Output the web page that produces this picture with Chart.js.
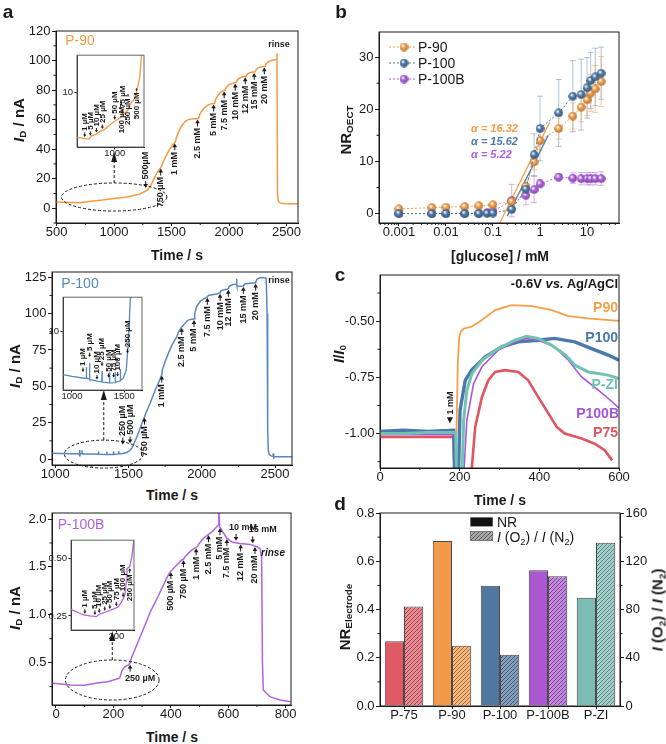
<!DOCTYPE html>
<html>
<head>
<meta charset="utf-8">
<script src="https://cdn.jsdelivr.net/npm/chart.js@4.4.1/dist/chart.umd.min.js"></script>
<style>
  body { margin: 0; background: #fff; }
  #fig { position: relative; width: 666px; height: 744px; overflow: hidden;
         font-family: 'Liberation Sans', Arial, sans-serif; color: #1a1a1a; }
  #fig canvas { position: absolute; }
  .t { position: absolute; white-space: nowrap; line-height: 1; z-index: 3; }
  .c { transform: translate(-50%, -50%); }
  .l { transform: translate(0, -50%); }
  .r { transform: translate(-100%, -50%); }
  .v { transform: translate(-50%, -50%) rotate(-90deg); }
  .b { font-weight: bold; }
  .tt { font-size: 14px; }
  .yt { font-size: 15px; }
  .let { font-size: 19px; font-weight: bold; }
  sub { font-size: 0.66em; vertical-align: -0.28em; line-height: 0; }
</style>
</head>
<body>
<div id="fig">
  <!-- panel letters -->
  <div class="t c let" style="left:8px;top:11px">a</div>
  <div class="t c let" style="left:341px;top:11px">b</div>
  <div class="t c let" style="left:340px;top:274px">c</div>
  <div class="t c let" style="left:340px;top:503px">d</div>

  <!-- panel a -->
  <div class="t v b yt" style="left:18px;top:120px"><i>I</i><sub>D</sub> / nA</div>
  <div class="t v b yt" style="left:14px;top:366px"><i>I</i><sub>D</sub> / nA</div>
  <div class="t v b yt" style="left:14px;top:608px"><i>I</i><sub>D</sub> / nA</div>
  <div class="t c b tt" style="left:177px;top:255px">Time / s</div>
  <div class="t c b tt" style="left:172px;top:495px">Time / s</div>
  <div class="t c b tt" style="left:172px;top:737px">Time / s</div>
  <div class="t c" style="left:80px;top:40px;font-size:14px;color:#f59a45">P-90</div>
  <div class="t c" style="left:80px;top:283px;font-size:14px;color:#5a88bd">P-100</div>
  <div class="t c" style="left:81px;top:524px;font-size:14px;color:#b263de">P-100B</div>
  <div class="t c b" style="left:279px;top:44px;font-size:9px">rinse</div>
  <div class="t c b" style="left:279px;top:280px;font-size:9px">rinse</div>
  <div class="t c b" style="left:273px;top:553px;font-size:10px;font-style:italic">rinse</div>

  <!-- panel b -->
  <div class="t v b yt" style="left:345px;top:130px">NR<sub>OECT</sub></div>
  <div class="t c b tt" style="left:500px;top:256px">[glucose] / mM</div>
  <div class="t l" style="left:418px;top:47px;font-size:14px">P-90</div>
  <div class="t l" style="left:418px;top:63px;font-size:14px">P-100</div>
  <div class="t l" style="left:418px;top:79px;font-size:14px">P-100B</div>
  <div class="t l b" style="left:471px;top:128px;font-size:11px;font-style:italic;color:#f59a45">α = 16.32</div>
  <div class="t l b" style="left:471px;top:141px;font-size:11px;font-style:italic;color:#4f7aa8">α = 15.62</div>
  <div class="t l b" style="left:471px;top:154px;font-size:11px;font-style:italic;color:#b060e0">α = 5.22</div>

  <!-- panel c -->
  <div class="t v b yt" style="left:338px;top:354px"><i>I</i>/<i>I</i><sub>0</sub></div>
  <div class="t c b tt" style="left:500px;top:500px">Time / s</div>
  <div class="t r b" style="left:618px;top:283px;font-size:13px">-0.6V <i>vs.</i> Ag/AgCl</div>
  <div class="t r b" style="left:618px;top:307px;font-size:14px;color:#f5a048">P90</div>
  <div class="t r b" style="left:618px;top:337px;font-size:14px;color:#4a78aa">P100</div>
  <div class="t r b" style="left:618px;top:384px;font-size:14px;color:#72c2b2">P-ZI</div>
  <div class="t r b" style="left:619px;top:413px;font-size:14px;color:#a855d8">P100B</div>
  <div class="t r b" style="left:618px;top:432px;font-size:14px;color:#e05560">P75</div>
  <div class="t v b" style="left:450px;top:403px;font-size:9px">1 mM</div>

  <!-- panel d -->
  <div class="t v b yt" style="left:344px;top:617px">NR<sub>Electrode</sub></div>
  <div class="t v b yt" style="left:657px;top:610px"><i>I</i> (O<sub>2</sub>) / <i>I</i> (N<sub>2</sub>)</div>
  <div class="t l" style="left:497px;top:522px;font-size:14px">NR</div>
  <div class="t l" style="left:497px;top:537px;font-size:14px"><i>I</i> (O<sub>2</sub>) / <i>I</i> (N<sub>2</sub>)</div>
</div>

<script>
// ── data ──────────────────────────────────────────────────────────────────

// a: drain current vs time, P-90
const A90_T = [495, 560, 700, 800, 900, 1000, 1100, 1221, 1270, 1294, 1330, 1360, 1385, 1411, 1425, 1450, 1480, 1510, 1533, 1545, 1565, 1590, 1615, 1645, 1690, 1735, 1745, 1765, 1790, 1820, 1850, 1874, 1882, 1900, 1925, 1950, 1967, 1975, 1995, 2020, 2050, 2063, 2070, 2090, 2120, 2151, 2158, 2180, 2210, 2229, 2236, 2255, 2290, 2316, 2322, 2345, 2380, 2415, 2417, 2422, 2428, 2435, 2445, 2470, 2530, 2600];
const A90_I = [4.0, 4.0, 3.7, 4.8, 5.6, 6.6, 7.5, 9.5, 11.5, 12.6, 17, 22, 25.5, 28, 31, 35, 39.5, 43, 45, 48.5, 52.5, 56, 58.5, 60, 60.6, 60.8, 63.5, 66, 68.5, 70, 70.8, 71, 73.5, 76, 78.5, 79.6, 80, 81.8, 83.3, 84.3, 85, 85.2, 86.8, 88, 89, 89.5, 90.8, 91.7, 92.2, 92.4, 94, 95.2, 95.8, 96.1, 97.8, 99.3, 100.3, 100.7, 105, 10, 5, 4.2, 3.6, 3.2, 3.1, 3.1];
const A90_IN_T = [613, 736, 761, 812, 846, 897, 948, 1000, 1051, 1102, 1136, 1171, 1194, 1222, 1238, 1256, 1273, 1290];
const A90_IN_I = [6.35, 6.25, 6.45, 6.57, 6.73, 6.89, 7.19, 7.47, 7.72, 8.1, 8.37, 9.07, 9.2, 10, 10.67, 11.57, 14.3, 16];

// a: P-100
const A100_T = [977, 1100, 1164, 1166, 1168, 1170, 1180, 1182, 1184, 1250, 1293, 1295, 1297, 1350, 1352, 1354, 1395, 1397, 1399, 1430, 1432, 1434, 1460, 1489, 1511, 1523, 1560, 1591, 1620, 1648, 1680, 1716, 1727, 1730, 1750, 1773, 1800, 1829, 1840, 1860, 1875, 1900, 1920, 1947, 1952, 1966, 1990, 2011, 2038, 2045, 2070, 2102, 2125, 2132, 2160, 2181, 2188, 2215, 2236, 2238, 2240, 2260, 2284, 2292, 2330, 2368, 2375, 2395, 2420, 2440, 2446, 2450, 2454, 2462, 2475, 2486, 2488, 2490, 2492, 2550, 2616];
const A100_I = [3.9, 3.7, 3.6, 6.3, 1.8, 3.6, 3.6, 6.0, 3.5, 3.4, 3.3, 5.2, 3.3, 3.2, 5.0, 3.2, 3.2, 5.3, 3.3, 3.4, 5.6, 3.5, 3.8, 4.5, 6, 7.5, 16, 24.5, 32, 38.5, 47, 55, 58, 61, 67, 73, 79, 84, 87, 90.5, 92, 95, 96, 96.2, 100, 105, 108.5, 110, 111.5, 112.5, 113, 113.5, 114.3, 115.8, 116.5, 117, 119, 120, 120.3, 124, 119, 118.8, 119, 120.3, 120.8, 121.2, 123.5, 124.6, 124.8, 124.3, 100, 20, 6, 3, 2, 1.8, 4, 0.2, 1.7, 1.5, 1.5];
const A100_IN_T = [914, 1000, 1100, 1135, 1137, 1139, 1166, 1168, 1170, 1200, 1250, 1285, 1287, 1289, 1357, 1359, 1361, 1411, 1413, 1415, 1460, 1462, 1464, 1490, 1519, 1541, 1557, 1570];
const A100_IN_I = [3.89, 3.75, 3.62, 3.6, 4.6, 3.6, 3.55, 5.0, 3.5, 3.45, 3.37, 3.35, 4.2, 3.3, 3.26, 4.1, 3.26, 3.28, 4.1, 3.3, 3.4, 4.4, 3.45, 3.6, 4.32, 8.69, 20, 22];

// a: P-100B
const A100B_T = [-14, 0, 50, 100, 119, 150, 180, 212, 222, 230, 240, 253, 258, 264, 300, 330, 360, 385, 398, 405, 421, 435, 444, 450, 467, 480, 491, 500, 514, 531, 545, 566, 567, 570, 577, 595, 612, 641, 676, 700, 711, 716, 719, 722, 745, 780, 818];
const A100B_I = [0.285, 0.283, 0.267, 0.265, 0.275, 0.29, 0.30, 0.33, 0.34, 0.42, 0.46, 0.476, 0.50, 0.56, 0.82, 1.04, 1.22, 1.38, 1.45, 1.47, 1.52, 1.565, 1.58, 1.61, 1.66, 1.69, 1.71, 1.75, 1.80, 1.84, 1.87, 1.94, 2.1, 1.92, 1.885, 1.80, 1.76, 1.745, 1.735, 1.71, 1.69, 1.6, 0.5, 0.215, 0.145, 0.11, 0.093];
const A100B_IN_T = [20, 42, 69, 95, 121, 134, 161, 187, 207, 220, 233, 240, 242, 253, 262, 268, 272];
const A100B_IN_I = [0.278, 0.268, 0.254, 0.25, 0.247, 0.258, 0.268, 0.279, 0.289, 0.31, 0.3375, 0.40, 0.455, 0.4625, 0.51, 0.567, 0.6];

// b: NR_OECT vs glucose
const B_CONC = [0.001, 0.005, 0.01, 0.025, 0.05, 0.075, 0.1, 0.25, 0.5, 0.75, 1, 2.5, 5, 7.5, 10, 12, 15, 20];
const B_P90 = [0.9, 1.15, 1.25, 1.35, 1.5, null, 1.7, 2.3, 5.2, 9.9, 14.0, 16.3, 18.7, 20.4, 21.8, 23.1, 23.9, 25.3];
const B_P90_ERR = [0.3, 0.3, 0.3, 0.3, 0.3, null, 0.4, 0.8, 1.2, 1.5, 1.8, 2.0, 2.5, 2.8, 3.0, 3.5, 4.5, 4.8];
const B_P100 = [0, 0, 0, 0, 0, 0.05, 0.1, 0.8, 4.7, 11.3, 16.3, 19.3, 22.5, 22.8, 24.1, 25.5, 26.2, 26.9];
const B_P100_ERR = [0.1, 0.1, 0.1, 0.1, 0.1, 0.1, 0.2, 0.5, 1.0, 4.0, 6.2, 6.4, 6.8, 6.8, 5.8, 5.4, 5.5, 5.0];
const B_P100B = [0, 0, 0, 0, 0.05, 0.2, 0.45, 2.5, 3.5, 4.6, 5.7, 7.0, 6.8, 6.7, 6.7, 6.7, 6.7, 6.7];
const B_P100B_ERR = [0.1, 0.1, 0.1, 0.1, 0.1, 0.2, 0.3, 3.1, 1.8, 2.5, 0.8, 0.6, 1.0, 1.2, 1.2, 1.2, 1.2, 1.3];
const B_FIT_P90_C = [0.139, 1.6];
const B_FIT_P90 = [-1.8, 17.5];
const B_FIT_P100_C = [0.2, 1.5];
const B_FIT_P100 = [-0.5, 15];

// c: normalised current vs time
const C_P90_T = [0, 60, 120, 185, 192, 195.5, 199, 203, 210, 230, 255, 289, 331, 381, 431, 473, 523, 560, 600];
const C_P90_V = [-1.0, -1.0, -1.0, -1.0, -1.0, -0.674, -0.57, -0.545, -0.533, -0.525, -0.496, -0.451, -0.429, -0.433, -0.451, -0.478, -0.488, -0.493, -0.499];
const C_P100_T = [0, 60, 120, 185, 188, 196, 201, 214, 230, 264, 306, 347, 397, 438, 489, 531, 573, 600];
const C_P100_V = [-0.99, -0.985, -0.99, -0.985, -1.25, -1.25, -0.896, -0.763, -0.718, -0.659, -0.614, -0.592, -0.585, -0.577, -0.592, -0.622, -0.651, -0.674];
const C_PZI_T = [0, 60, 120, 190, 193, 205, 210, 218, 231, 256, 297, 339, 368, 397, 431, 466, 489, 523, 573, 600];
const C_PZI_V = [-1.0, -1.0, -0.995, -0.995, -1.25, -1.25, -0.941, -0.807, -0.733, -0.674, -0.622, -0.585, -0.567, -0.577, -0.607, -0.651, -0.696, -0.726, -0.740, -0.755];
const C_P100B_T = [0, 60, 120, 190, 193, 208, 218, 235, 256, 297, 339, 368, 397, 438, 473, 506, 548, 573, 600];
const C_P100B_V = [-1.005, -1.005, -1.005, -1.005, -1.25, -1.25, -0.941, -0.777, -0.703, -0.629, -0.592, -0.577, -0.585, -0.614, -0.674, -0.748, -0.807, -0.844, -0.886];
const C_P75_T = [0, 60, 120, 185, 188, 226, 239, 256, 272, 289, 314, 347, 372, 397, 423, 444, 464, 506, 539, 564, 583];
const C_P75_V = [-1.015, -1.015, -1.015, -1.015, -1.25, -1.25, -0.971, -0.837, -0.763, -0.726, -0.718, -0.726, -0.763, -0.837, -0.911, -0.971, -1.0, -1.022, -1.045, -1.074, -1.119];

// d: bars
const D_CATS = ['P-75', 'P-90', 'P-100', 'P-100B', 'P-ZI'];
const D_NR = [0.268, 0.684, 0.498, 0.563, 0.449];
const D_RATIO = [82.5, 50, 42.5, 107.5, 135.3];

// tick values
const A90_XT = [500, 1000, 1500, 2000, 2500];
const A90_YT = [0, 20, 40, 60, 80, 100, 120];
const A100_XT = [1000, 1500, 2000, 2500];
const A100_YT = [0, 25, 50, 75, 100, 125];
const A100B_XT = [0, 200, 400, 600, 800];
const A100B_YT = [0.5, 1.0, 1.5, 2.0];
const B_XT = [0.001, 0.01, 0.1, 1, 10];
const B_YT = [0, 10, 20, 30];
const C_XT = [0, 200, 400, 600];
const C_YT = [-1.0, -0.75, -0.5];
const D_YT = [0, 0.2, 0.4, 0.6, 0.8];
const D_Y2T = [0, 40, 80, 120, 160];

// ── styling helpers ──────────────────────────────────────────────────────

const FONT = "'Liberation Sans', Arial, sans-serif";
const BLACK = '#1a1a1a';
const D_COLORS = ['#e05a66', '#f2994a', '#52779f', '#aa58d0', '#7cbcb4'];

Chart.defaults.font.family = FONT;
Chart.defaults.font.size = 13;
Chart.defaults.color = BLACK;

const fig = document.getElementById('fig');

function mix(a, b, f) {
    const p = h => [1, 3, 5].map(i => parseInt(h.slice(i, i + 2), 16));
    const A = p(a), B = p(b);
    return 'rgb(' + A.map((v, i) => Math.round(v + (B[i] - v) * f)).join(',') + ')';
}

function xy(xs, ys) {
    return xs.map((x, i) => ({ x: x, y: ys[i] }));
}

function mids(ticks) {
    const st = ticks[1] - ticks[0];
    const out = [];
    for (let v = ticks[0] - st / 2; v <= ticks[ticks.length - 1] + st / 2 + 1e-9; v += st) out.push(+v.toFixed(6));
    return out;
}

function logMinors() {
    const out = [];
    for (let e = -4; e <= 1; e++) for (let k = 2; k <= 9; k++) out.push(k * Math.pow(10, e));
    return out;
}

// canvas placed so the chart area lands on box (page pixels)
function addCanvas(box, pad) {
    const c = document.createElement('canvas');
    const w = Math.round(box.r - box.l + pad.l + pad.r);
    const h = Math.round(box.b - box.t + pad.t + pad.b);
    c.width = w; c.height = h;
    c.style.left = Math.round(box.l - pad.l) + 'px';
    c.style.top = Math.round(box.t - pad.t) + 'px';
    c.style.width = w + 'px'; c.style.height = h + 'px';
    fig.appendChild(c);
    return c;
}

function axis(pos, min, max, ticks, size, fmt, fs, type) {
    const small = fs && fs < 11;
    const horiz = pos === 'bottom';
    return {
        type: type || 'linear', position: pos, min: min, max: max,
        afterBuildTicks: s => { s.ticks = ticks.map(v => ({ value: v })); },
        afterFit: s => { if (s.isHorizontal()) s.height = size; else s.width = size; },
        border: { color: BLACK, width: 1 },
        grid: { drawOnChartArea: false, tickLength: small ? 2.5 : (horiz ? 3 : 4), tickWidth: 1, tickColor: BLACK, color: BLACK },
        ticks: { autoSkip: false, maxRotation: 0, padding: horiz ? -1.5 : 1.5, color: BLACK,
                 font: { size: fs || 13 }, callback: fmt || (v => String(v)) }
    };
}

function baseOptions(pad, scales) {
    return {
        responsive: false, animation: false,
        layout: { padding: { top: pad.t, right: pad.r, left: 0, bottom: 0 } },
        scales: scales,
        plugins: { legend: { display: false }, tooltip: { enabled: false } },
        elements: { point: { radius: 0 }, line: { tension: 0 } }
    };
}

// ── plugins ──────────────────────────────────────────────────────────────

function framePlugin(minor, color) {
    return {
        id: 'frame',
        afterDraw(chart) {
            const { ctx, chartArea: a, scales } = chart;
            ctx.save();
            ctx.strokeStyle = color || BLACK;
            ctx.lineWidth = 1;
            ctx.strokeRect(a.left, a.top, a.right - a.left, a.bottom - a.top);
            ctx.strokeStyle = BLACK;
            Object.keys(minor || {}).forEach(id => {
                const s = scales[id];
                minor[id].forEach(v => {
                    if (v < s.min || v > s.max) return;
                    const p = s.getPixelForValue(v);
                    ctx.beginPath();
                    if (s.isHorizontal()) { ctx.moveTo(p, a.bottom); ctx.lineTo(p, a.bottom + 2); }
                    else if (s.position === 'right') { ctx.moveTo(a.right, p); ctx.lineTo(a.right + 2.5, p); }
                    else { ctx.moveTo(a.left - 2.5, p); ctx.lineTo(a.left, p); }
                    ctx.stroke();
                });
            });
            ctx.restore();
        }
    };
}

const whiteArea = {
    id: 'whiteArea',
    beforeDraw(chart) {
        const { ctx, chartArea: a } = chart;
        ctx.save();
        ctx.fillStyle = '#fff';
        ctx.fillRect(a.left, a.top, a.right - a.left, a.bottom - a.top);
        ctx.restore();
    }
};

function curveAt(chart, t) {
    const d = chart.data.datasets[0].data;
    for (let i = 1; i < d.length; i++) {
        if (d[i].x >= t) {
            const a = d[i - 1], b = d[i];
            return a.y + (b.y - a.y) * (t - a.x) / (b.x - a.x);
        }
    }
    return d[d.length - 1].y;
}

function drawArrow(ctx, x, from, to, head) {
    const s = Math.sign(to - from);
    ctx.beginPath(); ctx.moveTo(x, from); ctx.lineTo(x, to - s * head * 0.5); ctx.stroke();
    ctx.beginPath();
    ctx.moveTo(x, to);
    ctx.lineTo(x - head * 0.6, to - s * head);
    ctx.lineTo(x + head * 0.6, to - s * head);
    ctx.closePath(); ctx.fill();
}

// concentration labels with arrows pointing at the trace
function notesPlugin(items, opts) {
    return {
        id: 'notes',
        afterDatasetsDraw(chart) {
            const { ctx, scales: { x, y } } = chart;
            ctx.save();
            ctx.fillStyle = BLACK; ctx.strokeStyle = BLACK; ctx.lineWidth = 1;
            items.forEach(n => {
                const fs = n.fs || opts.fs;
                const gap = n.gap != null ? n.gap : opts.gap;
                const len = n.len || opts.len;
                const px = x.getPixelForValue(n.t);
                const py = y.getPixelForValue(n.y != null ? n.y : curveAt(chart, n.t));
                const s = n.dir === 'up' ? 1 : -1;
                const tip = py + s * gap, tail = tip + s * len;
                drawArrow(ctx, px, tail, tip, Math.min(4, len * 0.55));
                ctx.font = 'bold ' + fs + 'px ' + FONT;
                if (n.horiz) {
                    ctx.textAlign = 'center';
                    ctx.textBaseline = s > 0 ? 'top' : 'bottom';
                    ctx.fillText(n.text, px + (n.dx || 0), tail + s * 2);
                } else {
                    ctx.save();
                    ctx.translate(px, tail + s * 1.5);
                    ctx.rotate(-Math.PI / 2);
                    ctx.textAlign = s > 0 ? 'right' : 'left';
                    ctx.textBaseline = 'middle';
                    ctx.fillText(n.text, 0, 0);
                    ctx.restore();
                }
            });
            ctx.restore();
        }
    };
}

// dashed ellipse + arrow up to the inset
function zoomMark(e) {
    return {
        id: 'zoomMark',
        afterDatasetsDraw(chart) {
            const { ctx, scales: { x, y } } = chart;
            const cx = x.getPixelForValue(e.cx), cy = y.getPixelForValue(e.cy);
            const rx = Math.abs(x.getPixelForValue(e.cx + e.rx) - cx);
            const ry = Math.abs(y.getPixelForValue(e.cy + e.ry) - cy);
            const top = y.getPixelForValue(e.top);
            ctx.save();
            ctx.strokeStyle = BLACK; ctx.fillStyle = BLACK; ctx.lineWidth = 1;
            ctx.setLineDash([3, 2]);
            ctx.beginPath(); ctx.ellipse(cx, cy, rx, ry, 0, 0, Math.PI * 2); ctx.stroke();
            ctx.beginPath(); ctx.moveTo(cx, cy - ry); ctx.lineTo(cx, top + 9); ctx.stroke();
            ctx.setLineDash([]);
            ctx.beginPath(); ctx.moveTo(cx, top); ctx.lineTo(cx - 3, top + 10); ctx.lineTo(cx + 3, top + 10);
            ctx.closePath(); ctx.fill();
            ctx.restore();
        }
    };
}

function sphere(color) {
    const c = document.createElement('canvas');
    c.width = c.height = 9;
    const g = c.getContext('2d');
    const grd = g.createRadialGradient(3.2, 3, 0.4, 4.5, 4.5, 4.6);
    grd.addColorStop(0, '#ffffff');
    grd.addColorStop(0.4, color);
    grd.addColorStop(1, mix(color, '#000000', 0.3));
    g.fillStyle = grd;
    g.beginPath(); g.arc(4.5, 4.5, 4.3, 0, Math.PI * 2); g.fill();
    return c;
}

function hatch(color, base) {
    const t = document.createElement('canvas');
    t.width = t.height = 4;
    const g = t.getContext('2d');
    g.fillStyle = base || mix(color, '#ffffff', 0.3);
    g.fillRect(0, 0, 4, 4);
    g.strokeStyle = mix(color, '#000000', 0.35);
    g.lineWidth = 0.9;
    g.beginPath();
    g.moveTo(0, 4); g.lineTo(4, 0);
    g.moveTo(-1, 1); g.lineTo(1, -1);
    g.moveTo(3, 5); g.lineTo(5, 3);
    g.stroke();
    return g.createPattern(t, 'repeat');
}

const errorBars = {
    id: 'errorBars',
    beforeDatasetsDraw(chart) {
        const { ctx, scales: { x, y } } = chart;
        ctx.save();
        ctx.lineWidth = 1;
        chart.data.datasets.forEach(ds => {
            if (!ds.err) return;
            ctx.strokeStyle = ds.errColor;
            ds.data.forEach((p, i) => {
                const e = ds.err[i];
                if (p.y == null || !e) return;
                const px = x.getPixelForValue(p.x);
                const y0 = y.getPixelForValue(p.y - e), y1 = y.getPixelForValue(p.y + e);
                ctx.beginPath();
                ctx.moveTo(px, y0); ctx.lineTo(px, y1);
                ctx.moveTo(px - 3, y0); ctx.lineTo(px + 3, y0);
                ctx.moveTo(px - 3, y1); ctx.lineTo(px + 3, y1);
                ctx.stroke();
            });
        });
        ctx.restore();
    }
};

// ── panel a ──────────────────────────────────────────────────────────────

function timeTrace(box, pad, xr, yr, xt, yt, yfmt, xs, ys, color, extra) {
    const cv = addCanvas(box, pad);
    return new Chart(cv, {
        type: 'line',
        data: { datasets: [{ data: xy(xs, ys), borderColor: color, borderWidth: 1.5 }] },
        options: baseOptions(pad, {
            x: axis('bottom', xr[0], xr[1], xt, pad.b),
            y: axis('left', yr[0], yr[1], yt, pad.l, yfmt)
        }),
        plugins: [framePlugin({ x: mids(xt), y: mids(yt) })].concat(extra)
    });
}

function inset(box, xr, yr, xt, yt, yfmt, ytype, xs, ys, color, notes) {
    const pad = { l: 22, t: 4, r: 12, b: 14 };
    const cv = addCanvas(box, pad);
    return new Chart(cv, {
        type: 'line',
        data: { datasets: [{ data: xy(xs, ys), borderColor: color, borderWidth: 1.3 }] },
        options: baseOptions(pad, {
            x: axis('bottom', xr[0], xr[1], xt, pad.b, null, 9.5),
            y: axis('left', yr[0], yr[1], yt, pad.l, yfmt, 9.5, ytype)
        }),
        plugins: [whiteArea, framePlugin({}, '#666'), notesPlugin(notes, { fs: 8, gap: 1.5, len: 4.5 })]
    });
}

const A90_COLOR = '#f59a45', A100_COLOR = '#5a88bd', A100B_COLOR = '#b263de';
const PAD_A = { l: 45, t: 10, r: 16, b: 22 };

timeTrace({ l: 55.5, t: 31, r: 297, b: 223 }, PAD_A, [495, 2600], [-10, 120], A90_XT, A90_YT, null,
    A90_T, A90_I, A90_COLOR, [
        zoomMark({ cx: 1001, cy: 7.6, rx: 458, ry: 9.5, top: 38 }),
        notesPlugin([
            { t: 1275, text: '500µM', dir: 'down', gap: 3 },
            { t: 1406, text: '750 µM', dir: 'up' },
            { t: 1528, text: '1 mM', dir: 'up' },
            { t: 1726, text: '2.5 mM', dir: 'up' },
            { t: 1866, text: '5 mM', dir: 'up' },
            { t: 1958, text: '7.5 mM', dir: 'up' },
            { t: 2054, text: '10 mM', dir: 'up' },
            { t: 2141, text: '12 mM', dir: 'up' },
            { t: 2219, text: '15 mM', dir: 'up' },
            { t: 2307, text: '20 mM', dir: 'up' }
        ], { fs: 9, gap: 1, len: 7 })
    ]);

timeTrace({ l: 51.7, t: 272, r: 292, b: 465 }, PAD_A, [977.5, 2616], [-4.1, 128.6], A100_XT, A100_YT, null,
    A100_T, A100_I, A100_COLOR, [
        zoomMark({ cx: 1331, cy: 3.4, rx: 269, ry: 9.6, top: 47.5 }),
        notesPlugin([
            { t: 1461, text: '250 µM', dir: 'down', gap: 9 },
            { t: 1511, text: '500 µM', dir: 'down', gap: 7 },
            { t: 1609, text: '750 µM', dir: 'up' },
            { t: 1727, text: '1 mM', dir: 'up' },
            { t: 1863, text: '2.5 mM', dir: 'up' },
            { t: 1947, text: '5 mM', dir: 'up' },
            { t: 2038, text: '7.5 mM', dir: 'up' },
            { t: 2125, text: '10 mM', dir: 'up' },
            { t: 2181, text: '12 mM', dir: 'up' },
            { t: 2284, text: '15 mM', dir: 'up' },
            { t: 2368, text: '20 mM', dir: 'up' }
        ], { fs: 9, gap: 1, len: 7 })
    ]);

timeTrace({ l: 51.7, t: 513, r: 291, b: 705 }, PAD_A, [-13.9, 818.4], [0.058, 2.063], A100B_XT, A100B_YT,
    v => v.toFixed(1), A100B_T, A100B_I, A100B_COLOR, [
        zoomMark({ cx: 196, cy: 0.319, rx: 163, ry: 0.209, top: 0.831 }),
        notesPlugin([
            { t: 258, text: '250 µM', dir: 'up', horiz: true, dx: 10, gap: 2 },
            { t: 400, text: '500 µM', dir: 'up' },
            { t: 444, text: '750 µM', dir: 'up' },
            { t: 488, text: '1 mM', dir: 'up' },
            { t: 531, text: '2.5 mM', dir: 'up' },
            { t: 571, text: '5 mM', dir: 'up' },
            { t: 595, text: '7.5 mM', dir: 'up' },
            { t: 627, text: '10 mM', dir: 'down', horiz: true, dx: 7, gap: 2 },
            { t: 685, text: '15 mM', dir: 'down', horiz: true, dx: 10, gap: 2 },
            { t: 643, text: '12 mM', dir: 'up' },
            { t: 693, text: '20 mM', dir: 'up' }
        ], { fs: 9, gap: 1, len: 7 })
    ]);

inset({ l: 77.3, t: 51.7, r: 144.3, b: 146.7 }, [613, 1300], [5.77, 14.5], [1000], [10], null, 'logarithmic',
    A90_IN_T, A90_IN_I, A90_COLOR, [
        { t: 692, text: '1 µM', dir: 'down' }, { t: 750, text: '5 µM', dir: 'down' },
        { t: 812, text: '10 µM', dir: 'down' }, { t: 873, text: '25 µM', dir: 'down' },
        { t: 1000, text: '50 µM', dir: 'down' }, { t: 1078, text: '75 µM', dir: 'down' },
        { t: 1068, y: 9.2, text: '100 µM', dir: 'up', len: 3 }, { t: 1136, y: 10, text: '250 µM', dir: 'up', len: 3 },
        { t: 1222, y: 10.6, text: '500 µM', dir: 'up', len: 3 }
    ]);

inset({ l: 62.7, t: 294.3, r: 141.7, b: 390.7 }, [914, 1669], [2.79, 20.9], [1000, 1500], [10], null, 'logarithmic',
    A100_IN_T, A100_IN_I, A100_COLOR, [
        { t: 1105, text: '1 µM', dir: 'down', gap: 6 }, { t: 1168, text: '5 µM', dir: 'down', gap: 6 },
        { t: 1239, text: '10 µM', dir: 'down' }, { t: 1287, text: '25 µM', dir: 'down', gap: 5 },
        { t: 1350, text: '50 µM', dir: 'down', gap: 5 }, { t: 1398, text: '75 µM', dir: 'down', gap: 5 },
        { t: 1436, text: '100 µM', dir: 'down', gap: 5 }, { t: 1530, y: 6, text: '250 µM', dir: 'down' }
    ]);

inset({ l: 71, t: 537.3, r: 134.3, b: 630.7 }, [20, 270], [0.189, 0.578], [200], [0.25, 0.5], v => v.toFixed(2), 'linear',
    A100B_IN_T, A100B_IN_I, A100B_COLOR, [
        { t: 75, text: '1 µM', dir: 'down' }, { t: 115, text: '5 µM', dir: 'down' },
        { t: 132, text: '10 µM', dir: 'down' }, { t: 154, text: '25 µM', dir: 'down' },
        { t: 174, text: '50 µM', dir: 'down' }, { t: 200, text: '75 µM', dir: 'down' },
        { t: 227, text: '100 µM', dir: 'down' }, { t: 253, text: '250 µM', dir: 'up' }
    ]);

// ── panel b ──────────────────────────────────────────────────────────────

const B_COLORS = { p90: '#f5a04a', p100: '#4f7aa8', p100b: '#b060e0' };
const B_IMG = { p90: sphere(B_COLORS.p90), p100: sphere(B_COLORS.p100), p100b: sphere(B_COLORS.p100b) };

function bSeries(vals, err, key, errColor) {
    return {
        data: xy(B_CONC, vals), err: err, errColor: errColor,
        borderColor: B_COLORS[key], borderWidth: 1, borderDash: [2, 2], spanGaps: true,
        pointStyle: B_IMG[key], pointRadius: 4
    };
}

const seriesKey = {
    id: 'seriesKey',
    afterDraw(chart) {
        const { ctx, chartArea: a } = chart;
        ['p90', 'p100', 'p100b'].forEach((k, i) => {
            const yy = a.top + 15 + i * 16;
            ctx.save();
            ctx.strokeStyle = B_COLORS[k]; ctx.lineWidth = 1; ctx.setLineDash([2, 2]);
            ctx.beginPath(); ctx.moveTo(a.left + 10, yy); ctx.lineTo(a.left + 37, yy); ctx.stroke();
            ctx.restore();
            ctx.drawImage(B_IMG[k], a.left + 25 - 4.5, yy - 4.5);
        });
    }
};

(function () {
    const box = { l: 378.7, t: 31.7, r: 619, b: 222.7 };
    const pad = { l: 40, t: 10, r: 16, b: 22 };
    const cv = addCanvas(box, pad);
    new Chart(cv, {
        type: 'line',
        data: {
            datasets: [
                bSeries(B_P100, B_P100_ERR, 'p100', 'rgba(79,122,168,0.45)'),
                bSeries(B_P90, B_P90_ERR, 'p90', 'rgba(245,160,74,0.55)'),
                bSeries(B_P100B, B_P100B_ERR, 'p100b', 'rgba(176,96,224,0.5)'),
                { data: xy(B_FIT_P100_C, B_FIT_P100), borderColor: B_COLORS.p100, borderWidth: 1.3 },
                { data: xy(B_FIT_P90_C, B_FIT_P90), borderColor: B_COLORS.p90, borderWidth: 1.3 }
            ]
        },
        options: baseOptions(pad, {
            x: axis('bottom', 3.76e-4, 47.9, B_XT, pad.b, v => String(v), 13, 'logarithmic'),
            y: axis('left', -1.8, 34.8, B_YT, pad.l)
        }),
        plugins: [errorBars, framePlugin({ x: logMinors(), y: mids(B_YT) }), seriesKey]
    });
})();

// ── panel c ──────────────────────────────────────────────────────────────

(function () {
    const box = { l: 379.7, t: 275, r: 619, b: 467.7 };
    const pad = { l: 45, t: 10, r: 16, b: 22 };
    const cv = addCanvas(box, pad);
    const line = (xs, ys, color, w) => ({ data: xy(xs, ys), borderColor: color, borderWidth: w });
    const marker = {
        id: 'marker',
        afterDatasetsDraw(chart) {
            const { ctx, scales: { x, y } } = chart;
            const px = x.getPixelForValue(175.5), py = y.getPixelForValue(-0.941);
            ctx.save(); ctx.fillStyle = BLACK;
            ctx.beginPath(); ctx.moveTo(px, py + 3); ctx.lineTo(px - 3, py - 3); ctx.lineTo(px + 3, py - 3);
            ctx.closePath(); ctx.fill(); ctx.restore();
        }
    };
    new Chart(cv, {
        type: 'line',
        data: {
            datasets: [
                line(C_PZI_T, C_PZI_V, '#72c2b2', 3),
                line(C_P100B_T, C_P100B_V, '#a855d8', 1.6),
                line(C_P90_T, C_P90_V, '#f5a048', 1.8),
                line(C_P100_T, C_P100_V, '#4a78aa', 3.4),
                line(C_P75_T, C_P75_V, '#e05560', 2.6)
            ]
        },
        options: baseOptions(pad, {
            x: axis('bottom', 0, 600, C_XT, pad.b),
            y: axis('left', -1.153, -0.295, C_YT, pad.l, v => v.toFixed(2))
        }),
        plugins: [framePlugin({ x: mids(C_XT), y: mids(C_YT) }), marker]
    });
})();

// ── panel d ──────────────────────────────────────────────────────────────

(function () {
    const box = { l: 380.3, t: 513.3, r: 620.3, b: 706.7 };
    const pad = { l: 36, t: 10, r: 36, b: 22 };
    const cv = addCanvas(box, pad);
    const key = {
        id: 'key',
        afterDraw(chart) {
            const { ctx, chartArea: a } = chart;
            ctx.save();
            ctx.fillStyle = '#111';
            ctx.fillRect(a.left + 90.4, a.top + 4.4, 22.3, 9);
            ctx.fillStyle = hatch('#808080', '#a8a8a8');
            ctx.fillRect(a.left + 90.4, a.top + 18.6, 22.3, 9);
            ctx.strokeStyle = '#666'; ctx.lineWidth = 0.8;
            ctx.strokeRect(a.left + 90.4, a.top + 18.6, 22.3, 9);
            ctx.restore();
        }
    };
    const opts = baseOptions({ t: pad.t, r: 0 }, {
        x: {
            type: 'category', position: 'bottom', offset: true,
            afterFit: s => { s.height = pad.b; },
            border: { color: BLACK, width: 1 },
            grid: { offset: false, drawOnChartArea: false, tickLength: 3, tickColor: BLACK },
            ticks: { color: BLACK, padding: -1.5, autoSkip: false, maxRotation: 0, minRotation: 0, font: { size: 13 } }
        },
        y: axis('left', 0, 0.8, D_YT, pad.l, v => v.toFixed(1)),
        y2: axis('right', 0, 160, D_Y2T, pad.r)
    });
    new Chart(cv, {
        type: 'bar',
        data: {
            labels: D_CATS,
            datasets: [
                { data: D_NR, yAxisID: 'y', backgroundColor: D_COLORS, borderColor: '#4a4a4a', borderWidth: 1,
                  categoryPercentage: 0.8, barPercentage: 1 },
                { data: D_RATIO, yAxisID: 'y2', backgroundColor: D_COLORS.map(c => hatch(c)), borderColor: '#4a4a4a',
                  borderWidth: 1, categoryPercentage: 0.8, barPercentage: 1 }
            ]
        },
        options: opts,
        plugins: [framePlugin({ y: mids(D_YT), y2: mids(D_Y2T) }), key]
    });
})();
</script>
</body>
</html>
